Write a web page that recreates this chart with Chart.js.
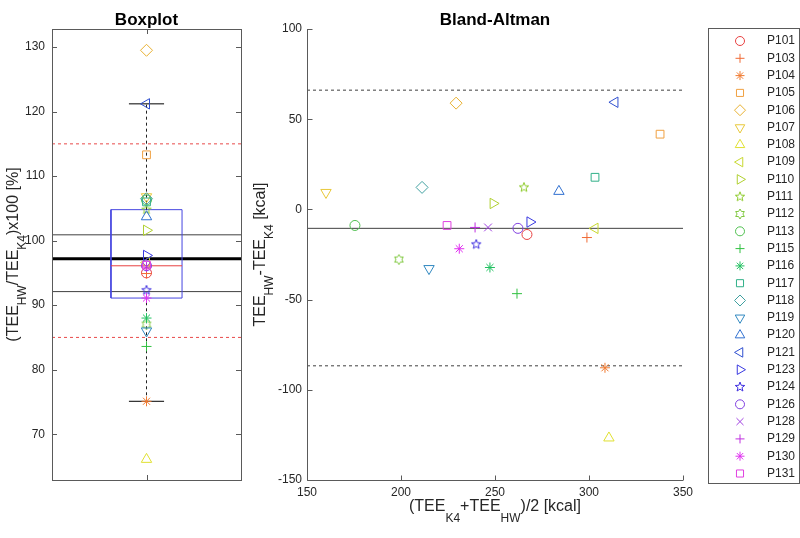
<!DOCTYPE html>
<html>
<head>
<meta charset="utf-8">
<script src="https://cdn.jsdelivr.net/npm/chart.js@4.4.0/dist/chart.umd.min.js"></script>
<style>
  html, body { margin: 0; padding: 0; background: #fff; }
  #wrap { position: relative; width: 800px; height: 538px; }
  #wrap canvas { position: absolute; left: 0; top: 0; }
</style>
</head>
<body>
<div id="wrap">
  <canvas id="box-chart" width="800" height="538"></canvas>
  <canvas id="ba-chart" width="800" height="538"></canvas>
</div>
<script>
/* ---- data ---- */
const participants = ['P101','P103','P104','P105','P106','P107','P108','P109','P110','P111','P112','P113','P115',
                      'P116','P117','P118','P119','P120','P121','P123','P124','P126','P128','P129','P130','P131'];
const markers = ['o','+','*','s','d','v','^','<','>','p','h','o','+','*','s','d','v','^','<','>','p','o','x','+','*','s'];
const colors  = ['#e84040','#f06a35','#f07a30','#f0a040','#e8b030','#e8c83a','#e0e030','#c8d830','#b0d030','#90cc30',
                 '#80c840','#50c050','#30c040','#20c060','#30b088','#40a0a0','#3088c0','#3070d0','#3050d0','#3838e0',
                 '#4030e0','#8040e0','#a040e0','#c030e0','#e030f0','#e040e0'];

// Boxplot: (TEE_HW / TEE_K4) x 100 per participant
const ratioPct = [95.0, 94.9, 75.1, 113.3, 129.5, 106.8, 66.1, 96.6, 101.6, 104.8, 87.0, 106.3, 83.6,
                  88.0, 106.0, 106.5, 86.0, 103.7, 121.2, 97.7, 92.3, 96.1, 96.0, 95.9, 91.1, 96.2];
// Bland-Altman: mean and difference [kcal]
const baMean = [267.0, 298.9, 308.5, 337.8, 229.3, 160.1, 310.6, 303.2, 249.0, 265.4, 198.9, 175.5, 261.7,
                247.3, 303.2, 211.2, 214.9, 284.0, 313.8, 268.6, 240.0, 262.2, 246.3, 239.4, 231.0, 224.5];
const baDiff = [-13.9, -15.6, -87.8, 41.7, 58.9, 9.4, -126.7, -10.5, 3.3, 12.2, -27.8, -8.9, -46.7,
                -32.2, 17.8, 12.2, -32.8, 10.0, 59.4, -7.0, -19.4, -10.5, -10.0, -10.0, -21.8, -8.9];

const boxQ1 = 91.1, boxMedian = 96.1, boxQ3 = 104.8;
const whiskerLow = 75.1, whiskerHigh = 121.2;
const ratioMean = 97.2;
const ratioBand = [92.1, 100.9];
const ratioLimits = [85, 115];
const baBias = -10.5;
const baLimits = [-86.7, 66.1];

const boxYTicks = [70, 80, 90, 100, 110, 120, 130];
const baXTicks  = [150, 200, 250, 300, 350];
const baYTicks  = [-150, -100, -50, 0, 50, 100];

/* ---- text ---- */
const FONT = '"Liberation Sans", Arial, sans-serif';
const TXT  = '#262626';
const AXC  = '#5a5a5a';

// axis labels with subscripts: [text, isSubscript]
const boxYLabel = [['(TEE',0],['HW',1],['/TEE',0],['K4',1],[')x100 [%]',0]];
const baYLabel  = [['TEE',0],['HW',1],['-TEE',0],['K4',1],[' [kcal]',0]];
const baXLabel  = [['(TEE',0],['K4',1],['+TEE',0],['HW',1],[')/2 [kcal]',0]];

/* ---- marker helpers ---- */
function starCanvas(color, n, outer, inner) {
  const c = document.createElement('canvas');
  c.width = c.height = 14;
  const g = c.getContext('2d');
  g.strokeStyle = color; g.lineWidth = 1;
  g.beginPath();
  for (let i = 0; i < 2 * n; i++) {
    const r = i % 2 ? inner : outer;
    const a = -Math.PI / 2 + i * Math.PI / n;
    const px = 7 + r * Math.cos(a), py = 7 + r * Math.sin(a);
    i ? g.lineTo(px, py) : g.moveTo(px, py);
  }
  g.closePath(); g.stroke();
  return c;
}

const styleMap = {
  'o': ['circle', 0, 5], '+': ['cross', 0, 5], '*': ['star', 0, 5], 's': ['rect', 0, 5.5],
  'd': ['rectRot', 0, 6], 'v': ['triangle', 180, 6], '^': ['triangle', 0, 6],
  '<': ['triangle', 270, 6], '>': ['triangle', 90, 6], 'x': ['crossRot', 0, 5.5]
};
const pStyles = markers.map((m, i) => {
  if (m === 'p') return starCanvas(colors[i], 5, 5, 2.1);
  if (m === 'h') return starCanvas(colors[i], 6, 5, 2.9);
  return styleMap[m][0];
});
const pRot = markers.map(m => styleMap[m] ? styleMap[m][1] : 0);
const pRad = markers.map(m => styleMap[m] ? styleMap[m][2] : 5);

function seg(x0, y0, x1, y1, color, width, dash) {
  return { data: [{ x: x0, y: y0 }, { x: x1, y: y1 }], showLine: true, borderColor: color,
           borderWidth: width || 1, borderDash: dash || [], pointRadius: 0, fill: false };
}

function richText(ctx, parts, x, y, angle, subOff) {
  const main = `16px ${FONT}`, sub = `12px ${FONT}`;
  ctx.save();
  ctx.translate(x, y); ctx.rotate(angle);
  ctx.fillStyle = TXT; ctx.textAlign = 'left'; ctx.textBaseline = 'alphabetic';
  let total = 0;
  parts.forEach(([t, s]) => { ctx.font = s ? sub : main; total += ctx.measureText(t).width; });
  let cx = -total / 2;
  parts.forEach(([t, s]) => {
    ctx.font = s ? sub : main;
    ctx.fillText(t, cx, s ? subOff : 0);
    cx += ctx.measureText(t).width;
  });
  ctx.restore();
}

function title(ctx, text, x, y) {
  ctx.save();
  ctx.font = `bold 17px ${FONT}`; ctx.fillStyle = '#000';
  ctx.textAlign = 'center'; ctx.textBaseline = 'middle';
  ctx.fillText(text, x, y);
  ctx.restore();
}

/* ---- boxplot decorations ---- */
const boxDecor = {
  id: 'boxDecor',
  afterDraw(chart) {
    const { ctx, chartArea: a, scales: { x, y } } = chart;
    ctx.save();
    ctx.strokeStyle = AXC; ctx.lineWidth = 1;
    ctx.strokeRect(Math.round(a.left) + 0.5, Math.round(a.top) + 0.5, Math.round(a.right - a.left), Math.round(a.bottom - a.top));
    ctx.beginPath();
    boxYTicks.forEach(v => {
      const py = Math.round(y.getPixelForValue(v)) + 0.5;
      ctx.moveTo(a.left, py); ctx.lineTo(a.left + 5, py);
      ctx.moveTo(a.right, py); ctx.lineTo(a.right - 5, py);
    });
    const cx = Math.round(x.getPixelForValue(1)) + 0.5;
    ctx.moveTo(cx, a.bottom); ctx.lineTo(cx, a.bottom - 5);
    ctx.moveTo(cx, a.top); ctx.lineTo(cx, a.top + 5);
    ctx.stroke();
    ctx.font = `12px ${FONT}`; ctx.fillStyle = TXT;
    ctx.textAlign = 'right'; ctx.textBaseline = 'middle';
    boxYTicks.forEach(v => ctx.fillText(String(v), a.left - 7, y.getPixelForValue(v)));
    ctx.restore();
    title(ctx, 'Boxplot', (a.left + a.right) / 2, 20);
    richText(ctx, boxYLabel, 18, (a.top + a.bottom) / 2, -Math.PI / 2, 8);
  }
};

/* ---- Bland-Altman decorations + legend ---- */
const baDecor = {
  id: 'baDecor',
  afterDraw(chart) {
    const { ctx, chartArea: a, scales: { x, y } } = chart;
    ctx.save();
    ctx.strokeStyle = AXC; ctx.lineWidth = 1;
    const L = Math.round(a.left) + 0.5, B = Math.round(a.bottom) + 0.5;
    ctx.beginPath();
    ctx.moveTo(L, a.top); ctx.lineTo(L, B); ctx.lineTo(a.right, B);
    baYTicks.forEach(v => { const py = Math.round(y.getPixelForValue(v)) + 0.5; ctx.moveTo(L, py); ctx.lineTo(L + 5, py); });
    baXTicks.forEach(v => { const px = Math.round(x.getPixelForValue(v)) + 0.5; ctx.moveTo(px, B); ctx.lineTo(px, B - 5); });
    ctx.stroke();
    ctx.font = `12px ${FONT}`; ctx.fillStyle = TXT;
    ctx.textAlign = 'right'; ctx.textBaseline = 'middle';
    baYTicks.forEach(v => ctx.fillText(String(v), a.left - 5, y.getPixelForValue(v)));
    ctx.textAlign = 'center';
    baXTicks.forEach(v => ctx.fillText(String(v), x.getPixelForValue(v), a.bottom + 13));

    // legend
    const lx = 708, ly = 28, lw = 91, lh = 455, step = 17.3;
    ctx.strokeStyle = AXC;
    ctx.strokeRect(lx + 0.5, ly + 0.5, lw, lh);
    ctx.textAlign = 'left';
    participants.forEach((p, i) => {
      const cy = 41 + i * step;
      ctx.strokeStyle = colors[i]; ctx.fillStyle = 'rgba(0,0,0,0)'; ctx.lineWidth = 1;
      Chart.helpers.drawPoint(ctx, { pointStyle: pStyles[i], rotation: pRot[i], radius: pRad[i] - 0.5, borderWidth: 1 }, 740, cy);
      ctx.fillStyle = TXT;
      ctx.fillText(p, 767, cy);
    });
    ctx.restore();
    title(ctx, 'Bland-Altman', (a.left + a.right) / 2, 20);
    richText(ctx, baYLabel, 265, (a.top + a.bottom) / 2, -Math.PI / 2, 8);
    richText(ctx, baXLabel, (a.left + a.right) / 2, 511, 0, 11);
  }
};

function pointSet(pts) {
  return { data: pts, showLine: false, pointStyle: pStyles, pointRotation: pRot, pointRadius: pRad,
           pointBorderColor: colors, pointBackgroundColor: 'rgba(0,0,0,0)', pointBorderWidth: 1 };
}

const common = {
  responsive: false, animation: false, devicePixelRatio: 1,
  plugins: { legend: { display: false }, tooltip: { enabled: false } },
  events: []
};

/* ---- boxplot ---- */
new Chart(document.getElementById('box-chart'), {
  type: 'scatter',
  data: {
    datasets: [
      pointSet(ratioPct.map(v => ({ x: 1, y: v }))),
      seg(0.907, whiskerHigh, 1.093, whiskerHigh, '#000'),
      seg(0.907, whiskerLow, 1.093, whiskerLow, '#000'),
      seg(1, boxQ3, 1, whiskerHigh, '#222', 1, [3, 3]),
      seg(1, whiskerLow, 1, boxQ1, '#222', 1, [3, 3]),
      seg(0.812, boxMedian, 1.188, boxMedian, '#e84040'),
      { data: [{ x: 0.812, y: boxQ1 }, { x: 1.188, y: boxQ1 }, { x: 1.188, y: boxQ3 }, { x: 0.812, y: boxQ3 }, { x: 0.812, y: boxQ1 }],
        showLine: true, borderColor: '#4545e0', borderWidth: 1, pointRadius: 0, fill: false },
      seg(0.5, ratioMean, 1.5, ratioMean, '#000', 3),
      seg(0.5, ratioBand[0], 1.5, ratioBand[0], '#404040'),
      seg(0.5, ratioBand[1], 1.5, ratioBand[1], '#404040'),
      seg(0.5, ratioLimits[0], 1.5, ratioLimits[0], '#e84a4a', 1, [3, 3]),
      seg(0.5, ratioLimits[1], 1.5, ratioLimits[1], '#e84a4a', 1, [3, 3])
    ]
  },
  options: {
    ...common,
    layout: { padding: { left: 52, right: 559, top: 29, bottom: 58 } },
    scales: {
      x: { type: 'linear', display: false, min: 0.5, max: 1.5 },
      y: { type: 'linear', display: false, min: 62.9, max: 132.8 }
    }
  },
  plugins: [boxDecor]
});

/* ---- Bland-Altman ---- */
new Chart(document.getElementById('ba-chart'), {
  type: 'scatter',
  data: {
    datasets: [
      pointSet(baMean.map((m, i) => ({ x: m, y: baDiff[i] }))),
      seg(150, baBias, 350, baBias, '#404040'),
      seg(150, baLimits[0], 350, baLimits[0], '#404040', 1, [3, 3]),
      seg(150, baLimits[1], 350, baLimits[1], '#404040', 1, [3, 3])
    ]
  },
  options: {
    ...common,
    layout: { padding: { left: 307, right: 117, top: 29, bottom: 58 } },
    scales: {
      x: { type: 'linear', display: false, min: 150, max: 350 },
      y: { type: 'linear', display: false, min: -150, max: 100 }
    }
  },
  plugins: [baDecor]
});
</script>
</body>
</html>
